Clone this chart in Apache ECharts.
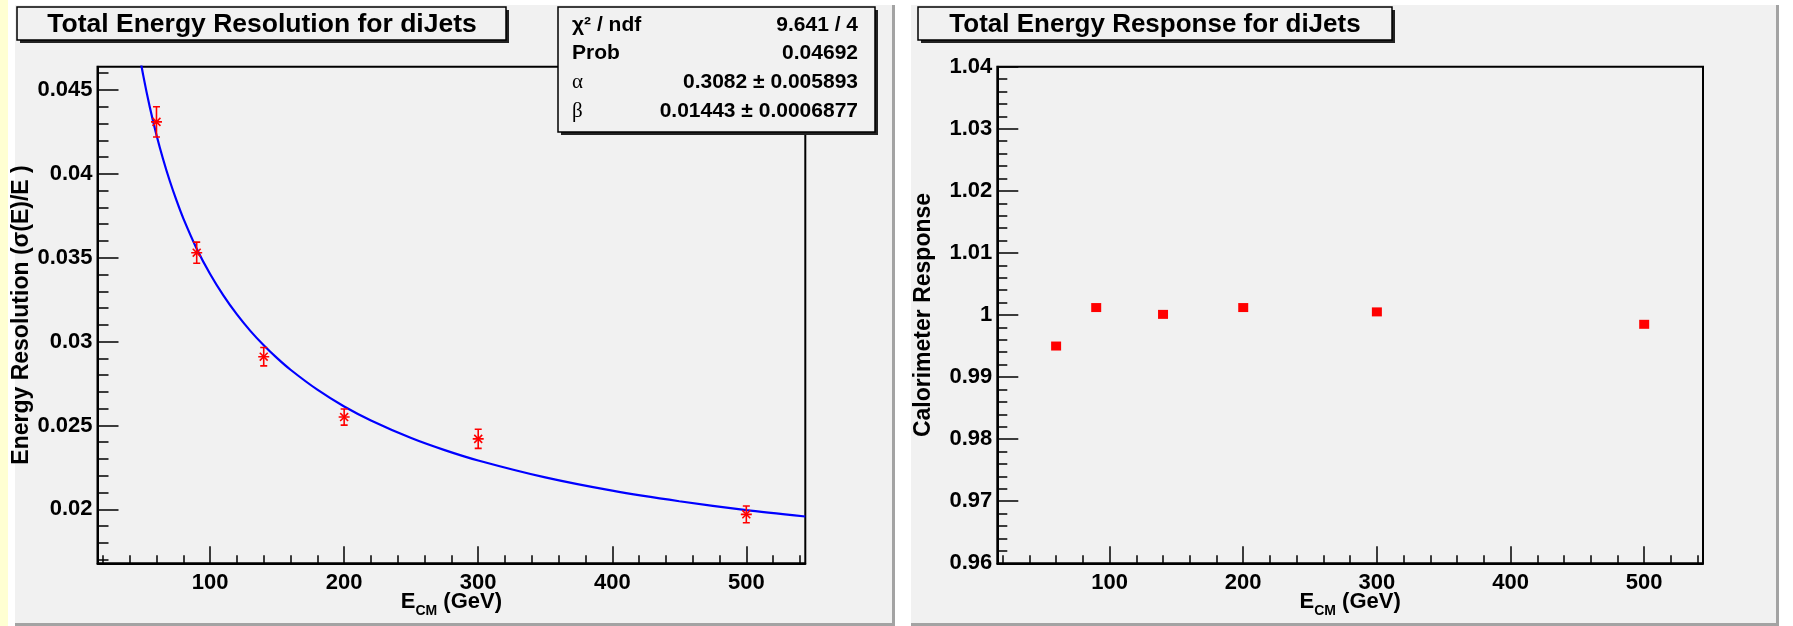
<!DOCTYPE html>
<html>
<head>
<meta charset="utf-8">
<script src="https://cdn.jsdelivr.net/npm/echarts@6/dist/echarts.min.js"></script>
<style>
  html, body { margin: 0; padding: 0; background: #ffffff; }
  #chart { width: 1793px; height: 626px; }
</style>
</head>
<body>
<div id="chart"></div>
<script>
// Centre-of-mass energies of the diJet samples (GeV)
const energies = [60, 90, 140, 200, 300, 500];
// Relative energy resolution sigma(E)/E and its uncertainty
const resolution = [0.0431, 0.0353, 0.0291, 0.0255, 0.0242, 0.0197];
const resolutionErr = [0.0009, 0.00063, 0.00055, 0.00048, 0.00057, 0.0005];
// Fitted resolution curve, sampled along the energy axis
const fitEnergies = [45, 50, 55, 60, 65, 70, 75, 80, 90, 100, 110, 120, 130, 140, 150, 160, 180, 200,
  220, 250, 275, 300, 350, 400, 450, 500, 544];
const fitResolution = [0.04816, 0.04592, 0.04399, 0.04232, 0.04086, 0.03956, 0.03840, 0.03735, 0.03554,
  0.03403, 0.03274, 0.03162, 0.03064, 0.02978, 0.02901, 0.02832, 0.02713, 0.02613,
  0.02530, 0.02425, 0.02353, 0.02291, 0.02190, 0.02111, 0.02048, 0.01995, 0.01957];
// Mean calorimeter response
const response = [0.9950, 1.0012, 1.0001, 1.0012, 1.0005, 0.9985];

// Axis tick labels
const energyTicks = [100, 200, 300, 400, 500];
const resolutionTicks = [0.02, 0.025, 0.03, 0.035, 0.04, 0.045];
const responseTicks = [0.96, 0.97, 0.98, 0.99, 1, 1.01, 1.02, 1.03, 1.04];

// Fit summary box
const statNames = ['χ² / ndf', 'Prob', 'α', 'β'];
const statValues = ['9.641 / 4', '0.04692', '0.3082 ± 0.005893', '0.01443 ± 0.0006877'];

const titles = ['Total Energy Resolution for diJets', 'Total Energy Response for diJets'];

const FONT = 'Liberation Sans, Arial, sans-serif';
const SERIF = 'Liberation Serif, serif';

function steps(from, to, step) {
  const out = [];
  for (let i = 0; from + i * step <= to + step * 1e-6; i++) out.push(+(from + i * step).toFixed(6));
  return out;
}
const energyMinor = steps(20, 540, 20);
const resolutionMinor = steps(0.017, 0.046, 0.001);
const responseMinor = steps(0.962, 1.038, 0.002);

const fmt = v => String(+(+v).toFixed(4));

const labelStyle = { color: '#000', fontFamily: FONT, fontWeight: 'bold', fontSize: 22 };
const axisLineStyle = { show: true, onZero: false, lineStyle: { color: '#000', width: 2 } };

function energyAxes(gridIndex) {
  return [{
    type: 'value', gridIndex, min: 16, max: 544, position: 'bottom',
    axisLine: axisLineStyle,
    splitLine: { show: false },
    axisTick: { show: true, inside: true, length: 17, customValues: energyTicks, lineStyle: { color: '#000', width: 1.5 } },
    axisLabel: Object.assign({ customValues: energyTicks, margin: 9, formatter: fmt }, labelStyle),
    name: '{e|E}{s|CM}{e| (GeV)}',
    nameLocation: 'middle', nameGap: 28, nameMoveOverlap: false,
    nameTextStyle: {
      rich: {
        e: { fontFamily: FONT, fontWeight: 'bold', fontSize: 22, color: '#000', lineHeight: 24, verticalAlign: 'top' },
        s: { fontFamily: FONT, fontWeight: 'bold', fontSize: 14, color: '#000', lineHeight: 14, padding: [13, 0, 0, 0], verticalAlign: 'top' }
      }
    }
  }, {
    type: 'value', gridIndex, min: 16, max: 544, position: 'bottom',
    axisLine: { show: false }, splitLine: { show: false }, axisLabel: { show: false },
    axisTick: { show: true, inside: true, length: 8, customValues: energyMinor, lineStyle: { color: '#000', width: 1.5 } }
  }];
}

function valueAxes(gridIndex, min, max, ticks, minor, name, nameGap, majorLen, minorLen) {
  return [{
    type: 'value', gridIndex, min, max, position: 'left',
    axisLine: axisLineStyle,
    splitLine: { show: false },
    axisTick: { show: true, inside: true, length: majorLen, customValues: ticks, lineStyle: { color: '#000', width: 1.5 } },
    axisLabel: Object.assign({ customValues: ticks, margin: 5, formatter: fmt }, labelStyle),
    name, nameLocation: 'middle', nameGap, nameRotate: 90, nameMoveOverlap: false,
    nameTextStyle: { color: '#000', fontFamily: FONT, fontWeight: 'bold', fontSize: 23 }
  }, {
    type: 'value', gridIndex, min, max, position: 'left',
    axisLine: { show: false }, splitLine: { show: false }, axisLabel: { show: false },
    axisTick: { show: true, inside: true, length: minorLen, customValues: minor, lineStyle: { color: '#000', width: 1.5 } }
  }];
}

// Pads, title boxes and the fit summary drawn as plain graphics
const PANEL = '#f1f1f1';
function panel(x, y, w, h) {
  return [
    { type: 'rect', z: -20, shape: { x, y, width: w, height: h }, style: { fill: PANEL } },
    { type: 'rect', z: -19, shape: { x: x + w, y, width: 3, height: h + 3 }, style: { fill: '#a3a3a3' } },
    { type: 'rect', z: -19, shape: { x, y: y + h, width: w + 3, height: 3 }, style: { fill: '#a3a3a3' } }
  ];
}
function pave(x, y, w, h) {
  return [
    { type: 'rect', z: 100, shape: { x: x + 3, y: y + 3, width: w, height: h }, style: { fill: '#222' } },
    { type: 'rect', z: 101, shape: { x, y, width: w, height: h }, style: { fill: PANEL, stroke: '#000', lineWidth: 1.5 } }
  ];
}
function titleText(text, cx, cy, size) {
  return { type: 'text', z: 102, style: { text, x: cx, y: cy, align: 'center', verticalAlign: 'middle',
    font: 'bold ' + size + 'px ' + FONT, fill: '#000' } };
}

const graphics = [
  { type: 'rect', z: -30, shape: { x: 0, y: 0, width: 8, height: 626 }, style: { fill: '#ffffd2' } },
  ...panel(15, 5, 877, 618),
  ...panel(911, 5, 865, 618),
  ...pave(17, 7, 489, 33),
  titleText(titles[0], 262, 24.5, 26.5),
  ...pave(918, 7, 474, 33),
  titleText(titles[1], 1155, 24.5, 26),
  ...pave(558, 7, 317, 125)
];
statNames.forEach((n, i) => {
  const y = 25 + i * 28.7;
  const greek = i >= 2;
  graphics.push({ type: 'text', z: 102, style: { text: n, x: 572, y, align: 'left', verticalAlign: 'middle',
    font: (greek ? '21px ' + SERIF : 'bold 21px ' + FONT), fill: '#000' } });
  graphics.push({ type: 'text', z: 102, style: { text: statValues[i], x: 858, y, align: 'right', verticalAlign: 'middle',
    font: 'bold 21px ' + FONT, fill: '#000' } });
});

// Error bar with caps and an asterisk marker
function renderErrorPoint(params, api) {
  const x = api.value(0), y = api.value(1), e = api.value(2);
  const c = api.coord([x, y]);
  const hi = api.coord([x, y + e]);
  const lo = api.coord([x, y - e]);
  const cap = 3.5, r = 5.5, d = r * 0.72;
  const style = { stroke: '#ff0000', lineWidth: 1.6 };
  const seg = (x1, y1, x2, y2) => ({ type: 'line', shape: { x1, y1, x2, y2 }, style });
  return {
    type: 'group',
    children: [
      seg(c[0], hi[1], c[0], lo[1]),
      seg(c[0] - cap, hi[1], c[0] + cap, hi[1]),
      seg(c[0] - cap, lo[1], c[0] + cap, lo[1]),
      seg(c[0] - r, c[1], c[0] + r, c[1]),
      seg(c[0] - d, c[1] - d, c[0] + d, c[1] + d),
      seg(c[0] - d, c[1] + d, c[0] + d, c[1] - d)
    ]
  };
}

const chart = echarts.init(document.getElementById('chart'), null, { renderer: 'canvas' });
chart.setOption({
  backgroundColor: 'transparent',
  animation: false,
  graphic: { elements: graphics },
  grid: [
    { left: 97.5, top: 66.7, width: 707.8, height: 496.6, show: true, borderColor: '#000', borderWidth: 2,
      backgroundColor: 'transparent', containLabel: false, outerBoundsMode: 'none' },
    { left: 997.3, top: 66.7, width: 705.7, height: 496.6, show: true, borderColor: '#000', borderWidth: 2,
      backgroundColor: 'transparent', containLabel: false, outerBoundsMode: 'none' }
  ],
  xAxis: [...energyAxes(0), ...energyAxes(1)],
  yAxis: [
    ...valueAxes(0, 0.01678, 0.04639, resolutionTicks, resolutionMinor, 'Energy Resolution (σ(E)/E )', 64, 21, 11),
    ...valueAxes(1, 0.96, 1.04, responseTicks, responseMinor, 'Calorimeter Response', 62, 21, 10)
  ],
  series: [
    {
      type: 'line', xAxisIndex: 0, yAxisIndex: 0, smooth: 0.25, showSymbol: false,
      clip: true, lineStyle: { color: '#0000ff', width: 2.2 },
      data: fitEnergies.map((e, i) => [e, fitResolution[i]]), z: 3
    },
    {
      type: 'custom', xAxisIndex: 0, yAxisIndex: 0, renderItem: renderErrorPoint, clip: true, z: 4,
      data: energies.map((e, i) => [e, resolution[i], resolutionErr[i]])
    },
    {
      type: 'scatter', xAxisIndex: 2, yAxisIndex: 2, symbol: 'rect', symbolSize: [10, 9],
      itemStyle: { color: '#ff0000', opacity: 1 },
      data: energies.map((e, i) => [e, response[i]])
    }
  ]
});
</script>
</body>
</html>
